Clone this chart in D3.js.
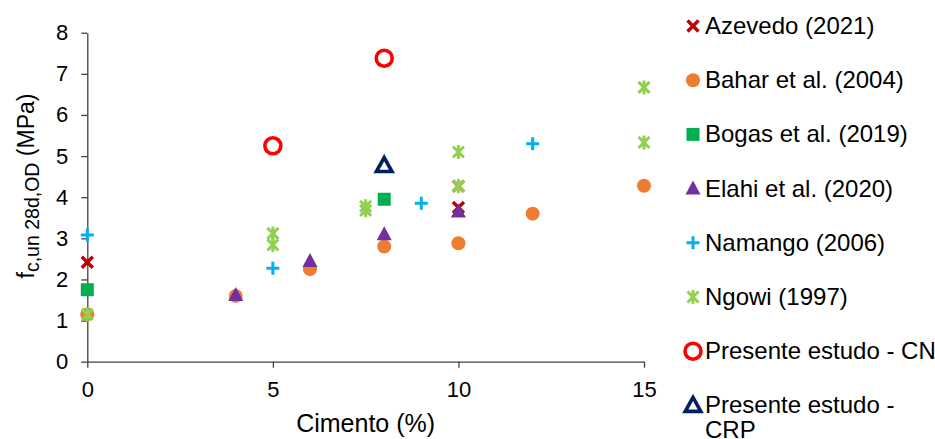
<!DOCTYPE html>
<html>
<head>
<meta charset="utf-8">
<script src="https://cdn.jsdelivr.net/npm/d3@7"></script>
<style>
  body { margin: 0; background: #fff; }
  text { font-family: "Liberation Sans", Arial, sans-serif; fill: #000; }
</style>
</head>
<body>
<script>
// ticks
const xTicks = [0, 5, 10, 15];
const yTicks = [0, 1, 2, 3, 4, 5, 6, 7, 8];

// series: [cimento %, f_c (MPa)]
const seriesNames = [
    "Azevedo (2021)",
    "Bahar et al. (2004)",
    "Bogas et al. (2019)",
    "Elahi et al. (2020)",
    "Namango (2006)",
    "Ngowi (1997)",
    "Presente estudo - CN",
    "Presente estudo - CRP"
];
const azevedo = [[0, 2.42], [10, 3.75], [10, 4.27]];
const bahar = [[0, 1.15], [4, 1.6], [6, 2.25], [8, 2.8], [10, 2.88], [12, 3.6], [15, 4.28]];
const bogas = [[0, 1.75], [8, 3.95]];
const elahi = [[4, 1.62], [6, 2.45], [8, 3.1], [10, 3.65]];
const namango = [[0, 3.08], [5, 2.27], [9, 3.85], [12, 5.3]];
const ngowi = [[0, 1.15], [5, 2.84], [5, 3.12], [7.5, 3.68], [7.5, 3.78], [10, 4.27], [10, 5.1], [15, 5.33], [15, 6.67]];
const presenteCN = [[5, 5.25], [8, 7.38]];
const presenteCRP = [[8, 4.77]];

const seriesData = [azevedo, bahar, bogas, elahi, namango, ngowi, presenteCN, presenteCRP];

// marker look for each series, same order as names
const markers = [
    {shape: "x", color: "#C00000"},
    {shape: "circle", color: "#ED7D31"},
    {shape: "square", color: "#00B050"},
    {shape: "triangle", color: "#7030A0"},
    {shape: "plus", color: "#00B0F0"},
    {shape: "star", color: "#92D050"},
    {shape: "ring", color: "#FF0000"},
    {shape: "openTriangle", color: "#002060"}
];

const svg = d3.select("body").append("svg")
    .attr("width", 935)
    .attr("height", 439);

const x = d3.scaleLinear().domain([0, 15]).range([87.3, 644]);
const y = d3.scaleLinear().domain([0, 8]).range([361.7, 32.7]);

function drawMarker(g, m) {
    if (m.shape == "x") {
        g.append("path").attr("d", "M-5.5,-5.5L5.5,5.5M5.5,-5.5L-5.5,5.5")
            .style("stroke", m.color).style("stroke-width", 3.4).style("fill", "none");
    } else if (m.shape == "circle") {
        g.append("path").attr("d", d3.symbol(d3.symbolCircle, Math.PI * 49)())
            .style("fill", m.color);
    } else if (m.shape == "square") {
        g.append("path").attr("d", d3.symbol(d3.symbolSquare, 169)())
            .style("fill", m.color);
    } else if (m.shape == "triangle") {
        g.append("path").attr("d", "M0,-8L7.5,6L-7.5,6Z")
            .style("fill", m.color);
    } else if (m.shape == "plus") {
        g.append("path").attr("d", "M-6.5,0H6.5M0,-6.5V6.5")
            .style("stroke", m.color).style("stroke-width", 3).style("fill", "none");
    } else if (m.shape == "star") {
        g.append("path").attr("d", "M-5.5,-5.5L5.5,5.5M5.5,-5.5L-5.5,5.5M0,-7V7")
            .style("stroke", m.color).style("stroke-width", 3).style("fill", "none");
    } else if (m.shape == "ring") {
        g.append("circle").attr("r", 8)
            .style("stroke", m.color).style("stroke-width", 3.6).style("fill", "#fff");
    } else if (m.shape == "openTriangle") {
        g.append("path").attr("d", "M0,-8L7.8,6L-7.8,6Z")
            .style("stroke", m.color).style("stroke-width", 3.6)
            .style("stroke-linejoin", "miter").style("fill", "#fff");
    }
}

// axes
const xAxis = svg.append("g")
    .attr("transform", "translate(0," + y(0) + ")")
    .call(d3.axisBottom(x).tickValues(xTicks).tickSizeInner(6).tickSizeOuter(0).tickPadding(14));
const yAxis = svg.append("g")
    .attr("transform", "translate(" + x(0) + ",0)")
    .call(d3.axisLeft(y).tickValues(yTicks).tickSizeInner(6).tickSizeOuter(0).tickPadding(13));

[xAxis, yAxis].forEach(a => {
    a.selectAll("path, line").style("stroke", "#404040").style("stroke-width", 1.3);
    a.selectAll("text").style("font-size", "22px").style("fill", "#000")
        .style("font-family", '"Liberation Sans", Arial, sans-serif');
});

// points
seriesData.forEach((pts, i) => {
    pts.forEach(p => {
        const g = svg.append("g")
            .attr("transform", "translate(" + x(p[0]) + "," + y(p[1]) + ")");
        drawMarker(g, markers[i]);
    });
});

// axis titles
svg.append("text")
    .attr("x", (x(0) + x(15)) / 2)
    .attr("y", 432)
    .attr("text-anchor", "middle")
    .style("font-size", "25px")
    .text("Cimento (%)");

const yTitle = svg.append("text")
    .attr("transform", "translate(34,186) rotate(-90)")
    .attr("text-anchor", "middle")
    .style("font-size", "23px");
yTitle.append("tspan").text("f");
yTitle.append("tspan").attr("dy", 5).style("font-size", "19.5px").text("c,un 28d,OD");
yTitle.append("tspan").attr("dy", -5).text(" (MPa)");

// legend
seriesNames.forEach((name, i) => {
    const ly = 26 + i * 54.2;
    const g = svg.append("g").attr("transform", "translate(693," + ly + ")");
    drawMarker(g, markers[i]);
    const t = svg.append("text")
        .attr("x", 705)
        .attr("y", ly + 8)
        .style("font-size", "24px");
    if (name == "Presente estudo - CRP") {
        t.append("tspan").attr("x", 705).text("Presente estudo -");
        t.append("tspan").attr("x", 705).attr("dy", 25).text("CRP");
    } else {
        t.text(name);
    }
});
</script>
</body>
</html>
